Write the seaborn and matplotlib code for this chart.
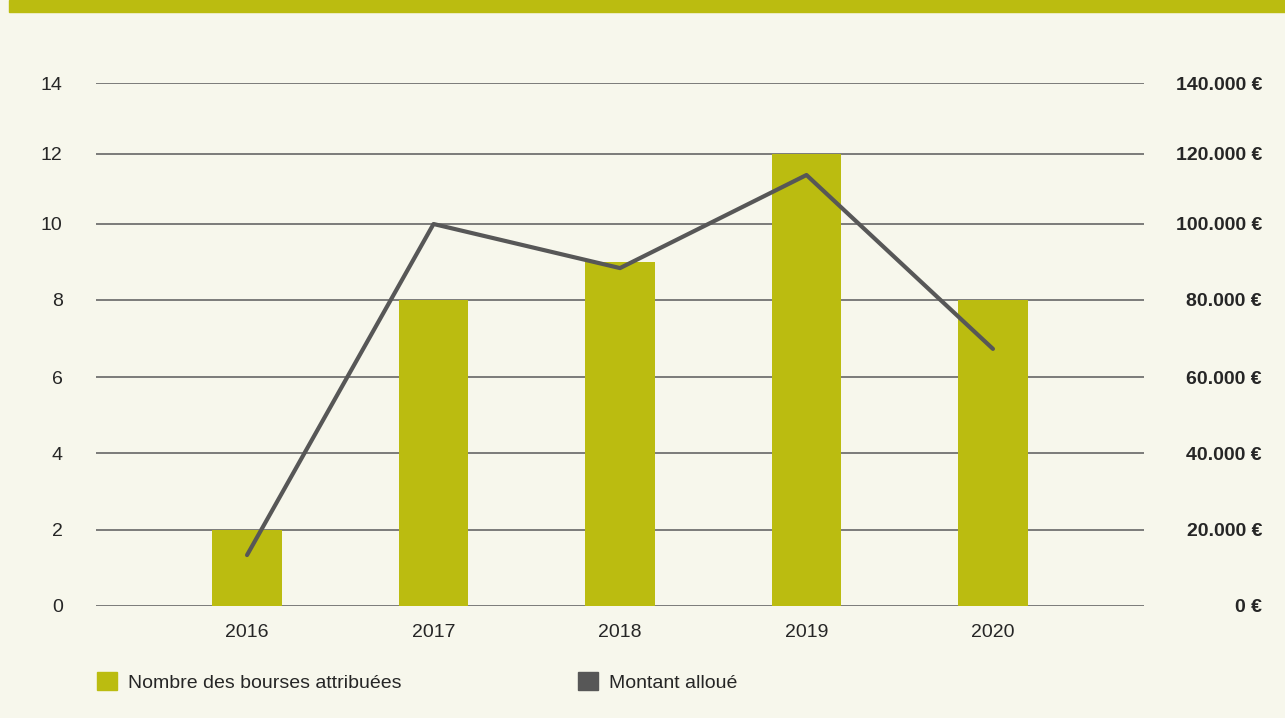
import numpy as np
import pandas as pd
import matplotlib
matplotlib.use("Agg")
import matplotlib.pyplot as plt
import seaborn as sns
from matplotlib.patches import Patch, Rectangle
from matplotlib.ticker import FuncFormatter

years = [2016, 2017, 2018, 2019, 2020]
nb_bourses = [2, 8, 9, 12, 8]
montant = [13400, 100000, 88400, 114000, 67300]

left_ticks = [0, 2, 4, 6, 8, 10, 12, 14]
right_ticks = [0, 20000, 40000, 60000, 80000, 100000, 120000, 140000]
# the original axis is not quite evenly spaced at the top
tick_spacing = [0, 76, 153, 229, 306, 382, 452, 523]

OLIVE = "#bbbc10"
GREY = "#575757"
BG = "#f7f7ec"

df = pd.DataFrame({"annee": years, "bourses": nb_bourses, "montant": montant})

sns.set_style("white")
plt.rcParams["font.family"] = ["Liberation Sans", "DejaVu Sans"]


def make_scale(ticks):
    fwd = lambda v: np.interp(v, ticks, tick_spacing, left=-1e9, right=1e9)
    inv = lambda v: np.interp(v, tick_spacing, ticks)
    return fwd, inv


fig = plt.figure(figsize=(12.85, 7.18), dpi=100, facecolor=BG)
ax = fig.add_axes([96 / 1285, 1 - 606 / 718, 1048 / 1285, 523 / 718])
ax.set_facecolor(BG)

# bandeau du haut
fig.patches.append(Rectangle((9 / 1285, 1 - 12 / 718), 1, 12 / 718,
                             transform=fig.transFigure, color=OLIVE, zorder=0))

sns.barplot(data=df, x="annee", y="bourses", native_scale=True, width=0.375,
            color=OLIVE, saturation=1, ax=ax, zorder=3, edgecolor="none")
ax.set_yscale("function", functions=make_scale(left_ticks))
ax.set_ylim(0, 14)
ax.set_xlim(2016 - 0.81, 2020 + 0.81)
ax.set_yticks(left_ticks)
ax.set_xticks(years)
ax.set_xticklabels([str(y) for y in years])
for y in left_ticks:
    ax.axhline(y, color="#666666", lw=1.2, zorder=1)
ax.tick_params(axis="y", length=0, pad=24, labelsize=14)
ax.tick_params(axis="x", length=0, pad=13, labelsize=14)
ax.set_xlabel("")
ax.set_ylabel("")
for s in ax.spines.values():
    s.set_visible(False)

ax2 = ax.twinx()
sns.lineplot(data=df, x="annee", y="montant", color=GREY, lw=3, ax=ax2, zorder=4)
ax2.set_yscale("function", functions=make_scale(right_ticks))
ax2.set_ylim(0, 140000)
ax2.set_yticks(right_ticks)
ax2.yaxis.set_major_formatter(FuncFormatter(lambda v, p: f"{int(v):,}".replace(",", ".") + " €"))
ax2.tick_params(axis="y", length=0, pad=85, labelsize=14)
for lab in ax2.get_yticklabels():
    lab.set_fontweight("bold")
    lab.set_horizontalalignment("right")
ax2.set_ylabel("")
ax2.set_xlabel("")
for s in ax2.spines.values():
    s.set_visible(False)
ax2.grid(False)

handles = [Patch(color=OLIVE, label="Nombre des bourses attribuées"),
           Patch(color=GREY, label="Montant alloué")]
fig.legend(handles=handles, loc="center left", bbox_to_anchor=(79 / 1285, 1 - 682 / 718),
           ncol=2, frameon=False, fontsize=14, handlelength=1.05, handleheight=1.05,
           handletextpad=0.55, columnspacing=9.1)

fig.savefig("out.png", dpi=100, facecolor=BG)
